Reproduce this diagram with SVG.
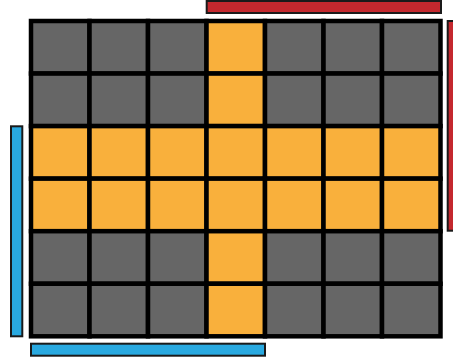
<svg xmlns="http://www.w3.org/2000/svg" width="453" height="360" viewBox="0 0 453 360">
<style>
.c{stroke:#000;stroke-width:4.5}
.g{fill:#666666}
.o{fill:#f9b03c}
.bar{stroke:#1a1a1a;stroke-width:2}
.red{fill:#c4282e}
.blue{fill:#29a9e0}
</style>
<rect width="453" height="360" fill="#fff"/>
<g id="grid">
<g id="row0">
<rect id="c0_0" class="c g" x="31" y="21" width="58.5" height="52.55"/>
<rect id="c0_1" class="c g" x="89.5" y="21" width="58.5" height="52.55"/>
<rect id="c0_2" class="c g" x="148" y="21" width="58.5" height="52.55"/>
<rect id="c0_3" class="c o" x="206.5" y="21" width="58.5" height="52.55"/>
<rect id="c0_4" class="c g" x="265" y="21" width="58.5" height="52.55"/>
<rect id="c0_5" class="c g" x="323.5" y="21" width="58.5" height="52.55"/>
<rect id="c0_6" class="c g" x="382" y="21" width="58.5" height="52.55"/>
</g>
<g id="row1">
<rect id="c1_0" class="c g" x="31" y="73.55" width="58.5" height="52.55"/>
<rect id="c1_1" class="c g" x="89.5" y="73.55" width="58.5" height="52.55"/>
<rect id="c1_2" class="c g" x="148" y="73.55" width="58.5" height="52.55"/>
<rect id="c1_3" class="c o" x="206.5" y="73.55" width="58.5" height="52.55"/>
<rect id="c1_4" class="c g" x="265" y="73.55" width="58.5" height="52.55"/>
<rect id="c1_5" class="c g" x="323.5" y="73.55" width="58.5" height="52.55"/>
<rect id="c1_6" class="c g" x="382" y="73.55" width="58.5" height="52.55"/>
</g>
<g id="row2">
<rect id="c2_0" class="c o" x="31" y="126.1" width="58.5" height="52.55"/>
<rect id="c2_1" class="c o" x="89.5" y="126.1" width="58.5" height="52.55"/>
<rect id="c2_2" class="c o" x="148" y="126.1" width="58.5" height="52.55"/>
<rect id="c2_3" class="c o" x="206.5" y="126.1" width="58.5" height="52.55"/>
<rect id="c2_4" class="c o" x="265" y="126.1" width="58.5" height="52.55"/>
<rect id="c2_5" class="c o" x="323.5" y="126.1" width="58.5" height="52.55"/>
<rect id="c2_6" class="c o" x="382" y="126.1" width="58.5" height="52.55"/>
</g>
<g id="row3">
<rect id="c3_0" class="c o" x="31" y="178.65" width="58.5" height="52.55"/>
<rect id="c3_1" class="c o" x="89.5" y="178.65" width="58.5" height="52.55"/>
<rect id="c3_2" class="c o" x="148" y="178.65" width="58.5" height="52.55"/>
<rect id="c3_3" class="c o" x="206.5" y="178.65" width="58.5" height="52.55"/>
<rect id="c3_4" class="c o" x="265" y="178.65" width="58.5" height="52.55"/>
<rect id="c3_5" class="c o" x="323.5" y="178.65" width="58.5" height="52.55"/>
<rect id="c3_6" class="c o" x="382" y="178.65" width="58.5" height="52.55"/>
</g>
<g id="row4">
<rect id="c4_0" class="c g" x="31" y="231.2" width="58.5" height="52.55"/>
<rect id="c4_1" class="c g" x="89.5" y="231.2" width="58.5" height="52.55"/>
<rect id="c4_2" class="c g" x="148" y="231.2" width="58.5" height="52.55"/>
<rect id="c4_3" class="c o" x="206.5" y="231.2" width="58.5" height="52.55"/>
<rect id="c4_4" class="c g" x="265" y="231.2" width="58.5" height="52.55"/>
<rect id="c4_5" class="c g" x="323.5" y="231.2" width="58.5" height="52.55"/>
<rect id="c4_6" class="c g" x="382" y="231.2" width="58.5" height="52.55"/>
</g>
<g id="row5">
<rect id="c5_0" class="c g" x="31" y="283.75" width="58.5" height="52.55"/>
<rect id="c5_1" class="c g" x="89.5" y="283.75" width="58.5" height="52.55"/>
<rect id="c5_2" class="c g" x="148" y="283.75" width="58.5" height="52.55"/>
<rect id="c5_3" class="c o" x="206.5" y="283.75" width="58.5" height="52.55"/>
<rect id="c5_4" class="c g" x="265" y="283.75" width="58.5" height="52.55"/>
<rect id="c5_5" class="c g" x="323.5" y="283.75" width="58.5" height="52.55"/>
<rect id="c5_6" class="c g" x="382" y="283.75" width="58.5" height="52.55"/>
</g>
</g>
<g id="bars">
<rect id="red-top" class="bar red" x="206.7" y="1" width="234.3" height="12"/>
<rect id="red-right" class="bar red" x="447.7" y="21" width="12" height="209.7"/>
<rect id="blue-left" class="bar blue" x="11" y="126.3" width="11.3" height="210"/>
<rect id="blue-bottom" class="bar blue" x="31" y="343.7" width="234" height="12"/>
</g>
</svg>
